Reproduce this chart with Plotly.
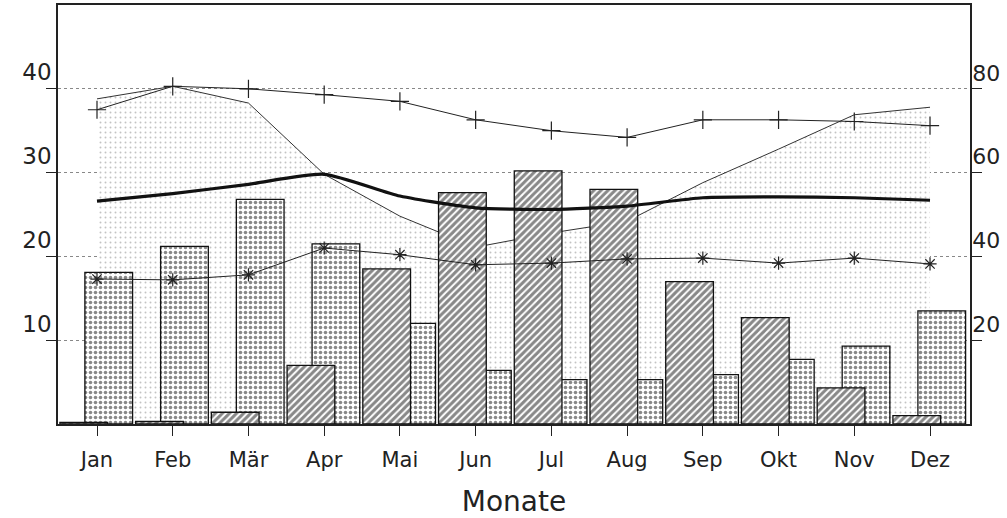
import plotly.graph_objects as go

months = ["Jan", "Feb", "Mär", "Apr", "Mai", "Jun", "Jul", "Aug", "Sep", "Okt", "Nov", "Dez"]

# hatched bars (left axis)
bars_hatched = [0.2, 0.3, 1.4, 7.0, 18.5, 27.6, 30.2, 28.0, 17.0, 12.7, 4.3, 1.0]
# dotted bars (left axis)
bars_dotted = [18.1, 21.2, 26.8, 21.5, 12.0, 6.4, 5.3, 5.3, 5.9, 7.7, 9.3, 13.5]
# stippled area (left axis)
area_vals = [38.8, 40.3, 38.3, 29.8, 24.8, 21.1, 22.8, 24.2, 28.8, 32.8, 36.9, 37.8]
# line with + markers (right axis)
plus_line = [75.0, 80.6, 80.0, 78.6, 77.0, 72.6, 70.0, 68.4, 72.6, 72.6, 72.2, 71.2]
# thick line (left axis)
thick_line = [26.6, 27.5, 28.6, 29.8, 27.2, 25.8, 25.6, 26.0, 27.0, 27.1, 27.0, 26.7]
# line with * markers (left axis)
star_line = [17.3, 17.2, 17.8, 21.0, 20.2, 19.0, 19.2, 19.7, 19.8, 19.2, 19.8, 19.1]

left_ticks = [10, 20, 30, 40]
right_ticks = [20, 40, 60, 80]

fig = go.Figure()

fig.add_trace(go.Scatter(
    x=months, y=area_vals, yaxis="y", mode="lines", fill="tozeroy",
    line=dict(color="#333", width=1),
    fillcolor="white",
    fillpattern=dict(shape=".", size=5, solidity=0.12, fgcolor="#888", bgcolor="white"),
    hoverinfo="skip", showlegend=False))

fig.add_trace(go.Bar(
    x=months, y=bars_dotted, yaxis="y2", offset=-0.16, width=0.63,
    marker=dict(color="white", line=dict(color="#111", width=1.3),
                pattern=dict(shape=".", size=5, solidity=0.4, fgcolor="#111", bgcolor="white")),
    showlegend=False))

fig.add_trace(go.Bar(
    x=months, y=bars_hatched, yaxis="y2", offset=-0.49, width=0.63,
    marker=dict(color="white", line=dict(color="#111", width=1.3),
                pattern=dict(shape="/", size=5, solidity=0.6, fgcolor="#111", bgcolor="white")),
    showlegend=False))

fig.add_trace(go.Scatter(
    x=months, y=plus_line, yaxis="y3", mode="lines+markers",
    line=dict(color="#222", width=1),
    marker=dict(symbol="cross-thin-open", size=13, line=dict(color="#222", width=1.2)),
    showlegend=False))

fig.add_trace(go.Scatter(
    x=months, y=thick_line, yaxis="y4", mode="lines", line_shape="spline",
    line=dict(color="#111", width=3.2, smoothing=0.6),
    showlegend=False))

fig.add_trace(go.Scatter(
    x=months, y=star_line, yaxis="y4", mode="lines+markers",
    line=dict(color="#222", width=1),
    marker=dict(symbol="asterisk-open", size=11, line=dict(color="#222", width=1.2)),
    showlegend=False))

fig.update_layout(
    width=1007, height=518,
    margin=dict(l=58, r=37, t=5, b=94, autoexpand=False),
    paper_bgcolor="white", plot_bgcolor="white",
    barmode="overlay",
    font=dict(family="DejaVu Sans", color="#222"),
    xaxis=dict(
        type="category", range=[-0.515, 11.528], automargin=False,
        showline=True, linecolor="#222", linewidth=1.5, mirror=True,
        ticks="outside", ticklen=10, tickcolor="#222",
        tickfont=dict(size=21), showgrid=False, ticklabelstandoff=6,
        title=dict(text="Monate", font=dict(size=28), standoff=24),
    ),
    yaxis=dict(
        range=[0, 50], tickvals=left_ticks, ticks="outside", ticklen=10,
        tickcolor="#222", showline=True, linecolor="#222", linewidth=1.5,
        ticklabelposition="outside top", tickfont=dict(size=23),
        showgrid=True, gridcolor="#888", griddash="dot", gridwidth=1,
        zeroline=False, automargin=False,
    ),
    yaxis2=dict(range=[0, 50], overlaying="y", visible=False),
    yaxis3=dict(
        range=[0, 100], overlaying="y", side="right", tickvals=right_ticks,
        ticks="outside", ticklen=10, tickcolor="#222",
        showline=True, linecolor="#222", linewidth=1.5,
        ticklabelposition="outside top", tickfont=dict(size=22),
        ticklabelstandoff=-4, automargin=False,
        showgrid=False, zeroline=False,
    ),
    yaxis4=dict(range=[0, 50], overlaying="y", visible=False),
)

fig.write_html("out.html", config={"displayModeBar": False},
               post_script="document.body.style.margin='0';")
